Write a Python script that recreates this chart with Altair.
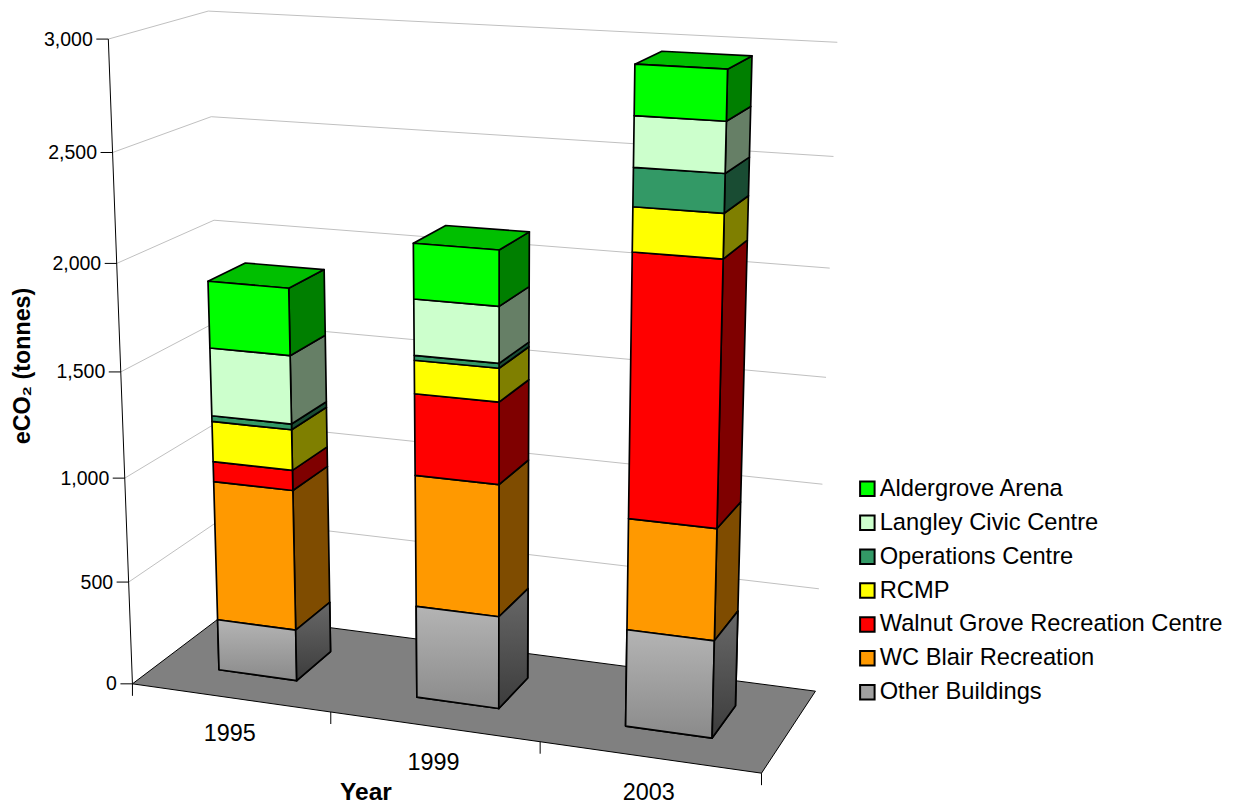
import altair as alt
import numpy as np
import pandas as pd

# Emissions by building, tonnes of eCO2
YEARS = ["1995", "1999", "2003"]
SERIES = ["Other Buildings", "WC Blair Recreation", "Walnut Grove Recreation Centre",
          "RCMP", "Operations Centre", "Langley Civic Centre", "Aldergrove Arena"]
OTHER = [250, 442, 457]
WC_BLAIR = [678, 622, 516]
WALNUT = [96, 380, 1192]
RCMP = [193, 154, 196]
OPERATIONS = [27, 22, 169]
LANGLEY = [321, 257, 220]
ALDERGROVE = [312, 251, 217]
VALUES = [OTHER, WC_BLAIR, WALNUT, RCMP, OPERATIONS, LANGLEY, ALDERGROVE]
COLORS = ["#a0a0a0", "#ff9900", "#ff0000", "#ffff00", "#339966", "#ccffcc", "#00ff00"]
VALUE_TICKS = [0, 500, 1000, 1500, 2000, 2500, 3000]
FONT = "Liberation Sans"

# Camera of the 3D view: world (across, value/3000, depth) seen at these canvas spots
VIEW = [((0, 0, 0), (131.7, 684.3)), ((0, 0.5, 0), (120.7, 371.7)), ((0, 1, 0), (109, 39.3)),
        ((0, 0, 1), (226, 613.5)), ((0, 2 / 3, 1), (213.3, 220.3)), ((0, 1, 1), (208, 11)),
        ((1, 0, 1), (815, 691.7)), ((1, 2 / 3, 1), (830, 268)), ((1, 1, 1), (837.3, 42.3)),
        ((1, 0, 0), (761.7, 772.7))]
rows, rhs = [], []
for (u, v, w), (sx, sy) in VIEW:
    rows.append([u, v, w, 1, 0, 0, 0, 0, -sx * u, -sx * v, -sx * w]); rhs.append(sx)
    rows.append([0, 0, 0, 0, u, v, w, 1, -sy * u, -sy * v, -sy * w]); rhs.append(sy)
CAM = np.append(np.linalg.lstsq(np.array(rows), np.array(rhs), rcond=None)[0], 1).reshape(3, 4)


def project(u, value, w):
    h = CAM @ np.array([u, value / 3000, w, 1.0])
    return h[0] / h[2], h[1] / h[2]


def poly(name, corners, **extra):
    out = []
    for i, (u, value, w) in enumerate(corners):
        px, py = project(u, value, w)
        out.append({"face": name, "i": i, "px": px, "py": py, **extra})
    return out


def shade(color, k):
    return "#" + "".join(f"{int(int(color[i:i + 2], 16) * k):02x}" for i in (1, 3, 5))


BAR_HALF = 0.0665
DEPTH0, DEPTH1 = 0.30, 0.70
front_rows, back_rows, grey_front, grey_side = [], [], [], []
for yi, year in enumerate(YEARS):
    c = (yi + 0.5) / 3
    u0, u1 = c - BAR_HALF, c + BAR_HALF
    base = 0
    for si, name in enumerate(SERIES):
        top = base + VALUES[si][yi]
        key = f"{year}-{name}"
        f = poly(key + "-f", [(u0, base, DEPTH0), (u1, base, DEPTH0), (u1, top, DEPTH0), (u0, top, DEPTH0)], series=name)
        s = poly(key + "-s", [(u1, base, DEPTH0), (u1, base, DEPTH1), (u1, top, DEPTH1), (u1, top, DEPTH0)],
                 tone=shade(COLORS[si], 0.5))
        front_rows += f
        back_rows += s
        if si == 0:
            grey_front += f
            grey_side += s
        if si == len(SERIES) - 1:
            back_rows += poly(key + "-t", [(u0, top, DEPTH0), (u1, top, DEPTH0), (u1, top, DEPTH1), (u0, top, DEPTH1)],
                              tone=shade(COLORS[si], 0.75))
        base = top

floor_rows = poly("floor", [(0, 0, 0), (1, 0, 0), (1, 0, 1), (0, 0, 1)])

grid_rows = []
for tick in VALUE_TICKS[1:]:
    grid_rows += poly(f"g{tick}", [(0, tick, 0), (0, tick, 1), (1, tick, 1)])

# Axis line with its tick marks, which stick out of the floor by a fixed length
axis_rows = poly("axis", [(0, 3000, 0), (0, 0, 0)])
TICK = 12
for tick in VALUE_TICKS:
    px, py = project(0, tick, 0)
    axis_rows += [{"face": f"vt{tick}", "i": 0, "px": px, "py": py},
                  {"face": f"vt{tick}", "i": 1, "px": px - TICK, "py": py}]
for k in range(4):
    px, py = project(k / 3, 0, 0)
    axis_rows += [{"face": f"ct{k}", "i": 0, "px": px, "py": py},
                  {"face": f"ct{k}", "i": 1, "px": px, "py": py + TICK}]

value_labels = []
for tick in VALUE_TICKS:
    px, py = project(0, tick, 0)
    value_labels.append({"px": px - 15.5, "py": py + 0.5, "label": f"{tick:,}"})
year_labels = []
for yi, year in enumerate(YEARS):
    px, py = project((yi + 0.5) / 3, 0, 0)
    year_labels.append({"px": px - 0.5, "py": py + 36, "label": year})

X = alt.X("px:Q", scale=alt.Scale(domain=[0, 1240], nice=False, zero=False), axis=None)
Y = alt.Y("py:Q", scale=alt.Scale(domain=[805, 0], nice=False, zero=False), axis=None)
ORDER = alt.Order("i:Q")


def faces(rows, **mark):
    return alt.Chart(pd.DataFrame(rows)).mark_line(interpolate="linear-closed", filled=True, strokeJoin="round", **mark)


def lines(rows, color, width):
    return alt.Chart(pd.DataFrame(rows)).mark_line(color=color, strokeWidth=width).encode(
        x=X, y=Y, order=ORDER, detail="face:N")


def grey_ramp(c0, c1):
    return alt.LinearGradient(gradient="linear", x1=0, y1=0, x2=0, y2=1,
                              stops=[alt.GradientStop(color=c0, offset=0), alt.GradientStop(color=c1, offset=1)])


floor = faces(floor_rows, fill="#808080", stroke="black", strokeWidth=1).encode(x=X, y=Y, order=ORDER, detail="face:N")
grid = lines(grid_rows, "#c0c0c0", 1)
axis = lines(axis_rows, "black", 1)

side_top = faces(back_rows, stroke="black", strokeWidth=1.7).encode(
    x=X, y=Y, order=ORDER, detail="face:N", fill=alt.Fill("tone:N", scale=None, legend=None))
front = faces(front_rows, stroke="black", strokeWidth=1.7).encode(
    x=X, y=Y, order=ORDER, detail="face:N",
    fill=alt.Fill("series:N",
                  scale=alt.Scale(domain=SERIES[::-1], range=COLORS[::-1]),
                  sort=SERIES[::-1],
                  legend=alt.Legend(title=None, orient="none", legendX=855.5, legendY=477,
                                    symbolType="square", symbolSize=210, symbolStrokeColor="black",
                                    symbolStrokeWidth=2, symbolOpacity=1, labelFont=FONT, labelFontSize=23.7,
                                    labelColor="black", labelOffset=0.5, rowPadding=8.9, labelLimit=400)))
front_grey = faces(grey_front, stroke="black", strokeWidth=1.7, fill=grey_ramp("#b4b4b4", "#8a8a8a")).encode(
    x=X, y=Y, order=ORDER, detail="face:N")
side_grey = faces(grey_side, stroke="black", strokeWidth=1.7, fill=grey_ramp("#686868", "#3c3c3c")).encode(
    x=X, y=Y, order=ORDER, detail="face:N")

value_text = alt.Chart(pd.DataFrame(value_labels)).mark_text(
    font=FONT, fontSize=19.5, align="right", baseline="middle", color="black").encode(x=X, y=Y, text="label:N")
year_text = alt.Chart(pd.DataFrame(year_labels)).mark_text(
    font=FONT, fontSize=23.4, align="center", baseline="middle", color="black").encode(x=X, y=Y, text="label:N")
x_title = alt.Chart(pd.DataFrame({"t": ["Year"]})).mark_text(
    font=FONT, fontSize=24.5, fontWeight="bold", align="center", baseline="middle", color="black").encode(
    x=alt.value(366), y=alt.value(792.5), text="t:N")
y_title = alt.Chart(pd.DataFrame({"t": ["eCO\u2082 (tonnes)"]})).mark_text(
    font=FONT, fontSize=23.3, fontWeight="bold", align="center", baseline="middle", color="black", angle=270).encode(
    x=alt.value(23), y=alt.value(366), text="t:N")

chart = alt.layer(grid, floor, axis, side_top, front, front_grey, side_grey,
                  value_text, year_text, x_title, y_title).resolve_scale(fill="independent").properties(
    width=1240, height=805, padding=0, autosize="none").configure_view(stroke=None)

chart.save("out.html", embed_options={"renderer": "svg", "actions": False})
